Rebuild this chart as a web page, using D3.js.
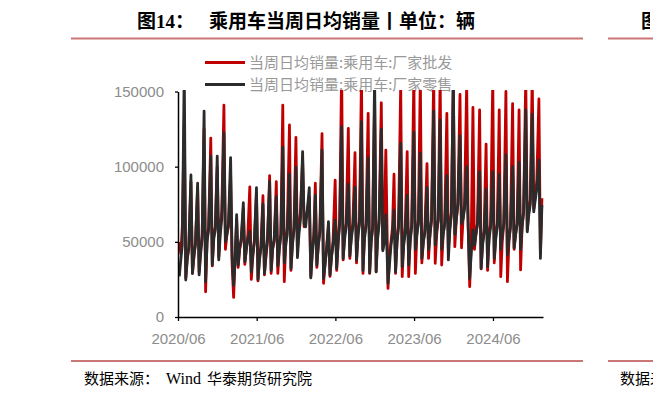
<!DOCTYPE html>
<html>
<head>
<meta charset="utf-8">
<script src="https://cdn.jsdelivr.net/npm/d3@7"></script>
<style>
  body { margin: 0; background: #fff; }
  svg { display: block; }
</style>
</head>
<body>
<div id="chart"></div>
<script>
// weekly daily-average sales, 4 CPCA weeks per month (1-7, 8-14, 15-21, 22-end)
const firstMonth = '2020/06'
const weekDays = [7, 14, 21] // last week ends at month end

// 厂家批发
const wholesale = [
  [50000, 42000, 60000, 130000], [26000, 40000, 45000, 90000], [29000, 40000, 50000, 86000],
  [30000, 45000, 55000, 125000], [16800, 52000, 60000, 119000], [34000, 55000, 60000, 100000],
  [40000, 60000, 70000, 141000], [45000, 55000, 60000, 95000], [35000, 13000, 40000, 65000],
  [33000, 45000, 50000, 72000], [35000, 45000, 55000, 86500], [25000, 40000, 50000, 82000],
  [24000, 40000, 48000, 80700], [28000, 40000, 50000, 94000], [29000, 45000, 50000, 90000],
  [29000, 45000, 55000, 141000], [23500, 50000, 60000, 127700], [31000, 50000, 60000, 119500],
  [43500, 60000, 70000, 105000], [60000, 65000, 70000, 80000], [27000, 45000, 55000, 89000],
  [33000, 48000, 58000, 122000], [22400, 35000, 45000, 60000], [27000, 40000, 50000, 91000],
  [31000, 50000, 65000, 165000], [38000, 55000, 62000, 125500], [39000, 55000, 62000, 109300],
  [36000, 55000, 65000, 160000], [29000, 55000, 62000, 135500], [29000, 50000, 60000, 145000],
  [30000, 55000, 65000, 142500], [45000, 60000, 111000, 19000], [40000, 50000, 60000, 95000],
  [29000, 50000, 62000, 155000], [26800, 50000, 60000, 110000], [26800, 52000, 62000, 160000],
  [29000, 55000, 65000, 160000], [36000, 50000, 58000, 102000], [39000, 55000, 65000, 160000],
  [35700, 55000, 65000, 160000], [34600, 55000, 62000, 135500], [45000, 60000, 70000, 158000],
  [46800, 65000, 75000, 148000], [46000, 65000, 75000, 155000], [60000, 20200, 50000, 139500],
  [45000, 55000, 62000, 137700], [32000, 50000, 58000, 115000], [31000, 55000, 62000, 158000],
  [36000, 55000, 62000, 137700], [26800, 50000, 62000, 150000], [23500, 50000, 60000, 142000],
  [45000, 55000, 62000, 137700], [31300, 60000, 70000, 160000], [58000, 70000, 78000, 160000],
  [72000, 80000, 90000, 145000], [42000, 79000]
]

// 厂家零售
const retail = [
  [27000, 38000, 48000, 165000], [24600, 38000, 47000, 94500], [29000, 41000, 48000, 89000],
  [28000, 42000, 52000, 137000], [23500, 50000, 58000, 107000], [34600, 52000, 58000, 107000],
  [38000, 55000, 65000, 122600], [50000, 55000, 62000, 106000], [40000, 21000, 38000, 68000],
  [34600, 46000, 52000, 76000], [36800, 45000, 52000, 57000], [30000, 42000, 50000, 86000],
  [25000, 38000, 46000, 75000], [29000, 42000, 52000, 90000], [31000, 46000, 52000, 80000],
  [34000, 46000, 55000, 113000], [36000, 48000, 55000, 95000], [32400, 48000, 58000, 99600],
  [39500, 55000, 65000, 110000], [62000, 60000, 70000, 86000], [26000, 42000, 52000, 81000],
  [34600, 48000, 56000, 111000], [25700, 35000, 45000, 63400], [28000, 40000, 48000, 64500],
  [32400, 50000, 62000, 126600], [39000, 52000, 60000, 88500], [40600, 52000, 60000, 86300],
  [38000, 54000, 62000, 130000], [31000, 52000, 60000, 106000], [29500, 50000, 60000, 160000],
  [30100, 52000, 62000, 124800], [44000, 50000, 68000, 22400], [35000, 48000, 55000, 71000],
  [30000, 50000, 60000, 115500], [33500, 48000, 56000, 81000], [34600, 50000, 60000, 123000],
  [45000, 55000, 62000, 109000], [39000, 50000, 56000, 86000], [45000, 55000, 65000, 137000],
  [48000, 58000, 65000, 131000], [45000, 55000, 62000, 94000], [38000, 58000, 68000, 160000],
  [55000, 65000, 75000, 120400], [62000, 65000, 72000, 100000], [60000, 25700, 42000, 58000],
  [47900, 55000, 62000, 96700], [32400, 48000, 56000, 85000], [33500, 52000, 60000, 96700],
  [39000, 52000, 60000, 95000], [45000, 55000, 62000, 108000], [41200, 52000, 60000, 100000],
  [46000, 55000, 62000, 103000], [45000, 60000, 70000, 137700], [56700, 68000, 75000, 135000],
  [70000, 78000, 85000, 104400], [39000, 74500]
]

const seriesNames = ['当周日均销量:乘用车:厂家批发', '当周日均销量:乘用车:厂家零售']
const seriesColors = ['#c00000', '#2b2b2b']
const xTicks = ['2020/06', '2021/06', '2022/06', '2023/06', '2024/06']
const yTicks = [0, 50000, 100000, 150000]
const xStart = '2020/06/01'
const xEnd = '2025/01/19'

const W = 653
const H = 396
const plot = { left: 178, right: 543, top: 91.5, bottom: 317 }
const labelFont = '"Liberation Sans", Arial, sans-serif'
const cjkFont = '"Noto Sans CJK SC", sans-serif'
const serifFont = '"Liberation Serif", "Noto Sans CJK SC", serif'

const parseMonth = d3.timeParse('%Y/%m')
const parseDay = d3.timeParse('%Y/%m/%d')

function toPoints (series) {
  const start = parseMonth(firstMonth)
  const pts = []
  series.forEach((weeks, i) => {
    const m = d3.timeMonth.offset(start, i)
    const monthEnd = d3.timeDay.offset(d3.timeMonth.offset(m, 1), -1)
    weeks.forEach((v, j) => {
      const date = j < 3 ? d3.timeDay.offset(m, weekDays[j] - 1) : monthEnd
      pts.push({ date, v })
    })
  })
  return pts
}

const svg = d3.select('#chart').append('svg')
  .attr('width', W)
  .attr('height', H)

// page clip: the neighbouring chart is cut at the right
svg.append('clipPath').attr('id', 'pageClip')
  .append('rect').attr('x', 0).attr('y', 0).attr('width', 650).attr('height', H)

// title + rules
svg.append('text')
  .attr('x', 137).attr('y', 28)
  .attr('font-family', serifFont)
  .attr('font-weight', 'bold').attr('font-size', 19)
  .text('图14：')
svg.append('text')
  .attr('x', 209).attr('y', 28)
  .attr('font-family', cjkFont)
  .attr('font-weight', 'bold').attr('font-size', 19)
  .text('乘用车当周日均销量丨单位：辆')
svg.append('text')
  .attr('x', 641).attr('y', 28)
  .attr('clip-path', 'url(#pageClip)')
  .attr('font-family', cjkFont)
  .attr('font-weight', 'bold').attr('font-size', 19)
  .text('图')

const ruleColor = '#c97877'
;[38.5, 361].forEach(yy => {
  svg.append('line').attr('x1', 71).attr('x2', 583).attr('y1', yy).attr('y2', yy)
    .attr('stroke', ruleColor).attr('stroke-width', 2)
  svg.append('line').attr('x1', 608).attr('x2', 653).attr('y1', yy).attr('y2', yy)
    .attr('stroke', ruleColor).attr('stroke-width', 2)
})

// source line
const source = svg.append('text')
  .attr('y', 384)
  .attr('font-size', 16)
  .attr('font-family', serifFont)
source.append('tspan').attr('x', 84).attr('font-family', cjkFont).attr('font-size', 15).text('数据来源：')
source.append('tspan').attr('x', 166).text('Wind')
source.append('tspan').attr('x', 207).attr('font-family', cjkFont).attr('font-size', 15).text('华泰期货研究院')
svg.append('text')
  .attr('x', 620).attr('y', 384)
  .attr('font-size', 15)
  .attr('font-family', cjkFont)
  .text('数据来源')

// scales
const x = d3.scaleTime()
  .domain([parseDay(xStart), parseDay(xEnd)])
  .range([plot.left, plot.right])
const y = d3.scaleLinear()
  .domain([0, 150000])
  .range([plot.bottom, plot.top])

// legend (below lines)
const legend = svg.append('g')
seriesNames.forEach((name, i) => {
  const ly = 62.5 + i * 22
  legend.append('line')
    .attr('x1', 205).attr('x2', 245).attr('y1', ly).attr('y2', ly)
    .attr('stroke', seriesColors[i]).attr('stroke-width', 3)
  legend.append('text')
    .attr('x', 249).attr('y', ly)
    .attr('dy', '0.35em')
    .attr('font-size', 15)
    .attr('font-family', cjkFont)
    .attr('fill', '#999999')
    .text(name)
})

// lines, clipped at the top of the axis
svg.append('clipPath').attr('id', 'plotClip')
  .append('rect')
  .attr('x', plot.left).attr('y', plot.top - 1.5)
  .attr('width', plot.right - plot.left + 2).attr('height', plot.bottom - plot.top + 4)

const line = d3.line()
  .x(d => x(d.date))
  .y(d => y(d.v))

const lines = svg.append('g').attr('clip-path', 'url(#plotClip)')
;[wholesale, retail].forEach((series, i) => {
  lines.append('path')
    .datum(toPoints(series))
    .attr('fill', 'none')
    .attr('stroke', seriesColors[i])
    .attr('stroke-width', 2.8)
    .attr('stroke-linejoin', 'round')
    .attr('d', line)
})

// axes
const xAxis = d3.axisBottom(x)
  .tickValues(xTicks.map(parseMonth))
  .tickFormat(d3.timeFormat('%Y/%m'))
  .tickSize(4)
  .tickSizeOuter(0)
  .tickPadding(12)
const yAxis = d3.axisLeft(y)
  .tickValues(yTicks)
  .tickFormat(d3.format('d'))
  .tickSize(3)
  .tickSizeOuter(0)
  .tickPadding(11)

const gx = svg.append('g')
  .attr('transform', 'translate(0,' + plot.bottom + ')')
  .call(xAxis)
const gy = svg.append('g')
  .attr('transform', 'translate(' + plot.left + ',0)')
  .call(yAxis)

;[gx, gy].forEach(g => {
  g.select('.domain').attr('stroke', '#000').attr('stroke-width', 1.5)
  g.selectAll('.tick line').attr('stroke', '#000').attr('stroke-width', 1.3)
  g.selectAll('.tick text')
    .attr('fill', '#8c8c8c')
    .attr('font-size', 15)
    .attr('font-family', labelFont)
})
</script>
</body>
</html>
